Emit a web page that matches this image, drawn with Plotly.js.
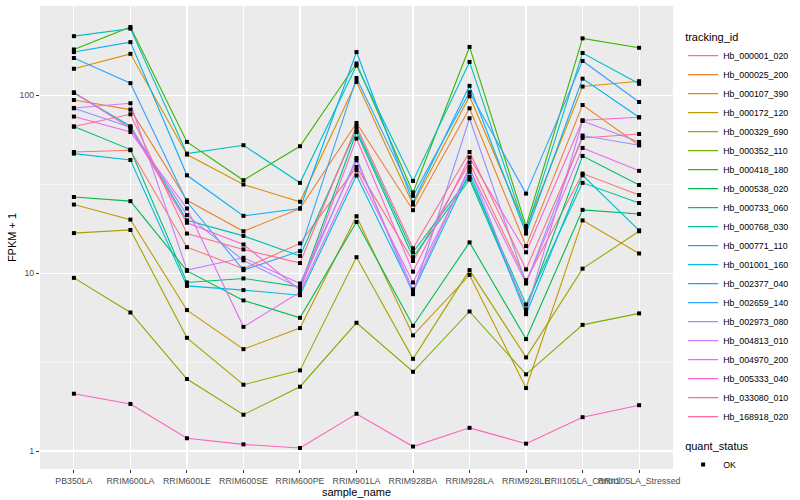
<!DOCTYPE html>
<html>
<head>
<meta charset="utf-8">
<script src="https://cdn.plot.ly/plotly-3.0.1.min.js"></script>
<style>html,body{margin:0;padding:0;background:#fff;}#chart{width:800px;height:500px;}</style>
</head>
<body>
<div id="chart"></div>
<script>
// ---- data (FPKM + 1) ----
const samples = ["PB350LA","RRIM600LA","RRIM600LE","RRIM600SE","RRIM600PE","RRIM901LA","RRIM928BA","RRIM928LA","RRIM928LE","RRII105LA_Control","RRII105LA_Stressed"];
const trackingIds = ["Hb_000001_020","Hb_000025_200","Hb_000107_390","Hb_000172_120","Hb_000329_690","Hb_000352_110","Hb_000418_180","Hb_000538_020","Hb_000733_060","Hb_000768_030","Hb_000771_110","Hb_001001_160","Hb_002377_040","Hb_002659_140","Hb_002973_080","Hb_004813_010","Hb_004970_200","Hb_005333_040","Hb_033080_010","Hb_168918_020"];
const Hb_000001_020 = [48.0, 49.1, 14.0, 10.6, 14.7, 39.6, 11.7, 41.9, 9.13, 36.3, 27.5];
const Hb_000025_200 = [94.1, 83.1, 25.7, 17.2, 23.1, 69.9, 22.6, 84.5, 14.2, 88.2, 52.4];
const Hb_000107_390 = [141, 171, 46.4, 31.5, 25.2, 119, 24.3, 98.7, 17.9, 112, 120];
const Hb_000172_120 = [24.3, 20.0, 6.20, 3.74, 4.91, 20.9, 4.47, 9.78, 2.26, 19.8, 12.9];
const Hb_000329_690 = [16.8, 17.5, 4.33, 2.36, 2.84, 12.3, 3.30, 10.4, 3.36, 10.6, 17.2];
const Hb_000352_110 = [9.41, 6.01, 2.54, 1.60, 2.30, 5.26, 2.79, 6.09, 2.70, 5.12, 5.94];
const Hb_000418_180 = [181, 242, 54.7, 33.3, 51.7, 151, 28.4, 187, 18.4, 209, 185];
const Hb_000538_020 = [26.8, 25.4, 10.3, 7.03, 5.61, 19.4, 5.06, 14.9, 4.26, 22.7, 21.5];
const Hb_000733_060 = [66.7, 49.5, 8.87, 9.34, 8.38, 62.2, 12.3, 33.6, 6.25, 45.6, 31.3];
const Hb_000768_030 = [103, 67.0, 19.8, 16.2, 12.5, 64.2, 13.1, 34.8, 6.67, 32.2, 24.8];
const Hb_000771_110 = [215, 237, 47.0, 52.4, 32.2, 147, 33.0, 154, 17.3, 173, 116];
const Hb_001001_160 = [47.0, 43.3, 8.48, 8.03, 7.52, 35.4, 7.85, 37.1, 5.88, 35.5, 17.4];
const Hb_002377_040 = [175, 199, 35.5, 21.0, 23.1, 175, 25.0, 113, 16.7, 124, 75.2];
const Hb_002659_140 = [162, 117, 25.1, 10.4, 13.3, 125, 27.2, 104, 28.0, 156, 91.7];
const Hb_002973_080 = [84.5, 66.1, 21.2, 11.8, 8.24, 44.4, 7.62, 74.3, 8.75, 59.4, 52.4];
const Hb_004813_010 = [84.9, 90.2, 10.4, 12.2, 8.75, 43.1, 8.10, 39.6, 6.04, 71.7, 54.7];
const Hb_004970_200 = [75.9, 62.2, 23.1, 4.99, 7.82, 37.9, 8.87, 38.4, 8.79, 50.6, 37.6];
const Hb_005333_040 = [104, 65.3, 19.2, 14.5, 8.03, 57.1, 10.2, 44.7, 13.1, 72.4, 75.2];
const Hb_033080_010 = [2.10, 1.84, 1.18, 1.09, 1.04, 1.62, 1.06, 1.35, 1.10, 1.55, 1.81];
const Hb_168918_020 = [66.7, 78.2, 16.7, 13.6, 11.4, 67.0, 13.8, 48.0, 10.5, 57.6, 60.6];
const quantStatus = "OK";

const seriesValues = [Hb_000001_020, Hb_000025_200, Hb_000107_390, Hb_000172_120, Hb_000329_690,
  Hb_000352_110, Hb_000418_180, Hb_000538_020, Hb_000733_060, Hb_000768_030, Hb_000771_110,
  Hb_001001_160, Hb_002377_040, Hb_002659_140, Hb_002973_080, Hb_004813_010, Hb_004970_200,
  Hb_005333_040, Hb_033080_010, Hb_168918_020];

// ggplot2 default hue palette for 20 levels
const palette = ["#F8766D","#EA8331","#D89000","#C09B00","#A3A500","#7CAE00","#39B600","#00BB4E","#00BF7D","#00C1A3","#00BFC4","#00BAE0","#00B0F6","#35A2FF","#9590FF","#C77CFF","#E76BF3","#FA62DB","#FF62BC","#FF6C91"];

const FONT = '"Liberation Sans", Arial, Helvetica, sans-serif';

const traces = trackingIds.map((id, i) => ({
  type: 'scatter', mode: 'lines', name: id,
  x: samples, y: seriesValues[i],
  line: {color: palette[i], width: 1.1},
  legend: 'legend', hoverinfo: 'skip'
}));

// points (all black, quant_status = OK)
const ptsX = [], ptsY = [];
seriesValues.forEach(vals => vals.forEach((v, j) => { ptsX.push(samples[j]); ptsY.push(v); }));
traces.push({
  type: 'scatter', mode: 'markers', name: quantStatus,
  x: ptsX, y: ptsY,
  marker: {color: '#000000', symbol: 'square', size: 4},
  legend: 'legend2', hoverinfo: 'skip'
});

const layout = {
  width: 800, height: 500,
  margin: {l: 40, r: 116, t: 6, b: 31, pad: 0},
  paper_bgcolor: '#FFFFFF', plot_bgcolor: '#EBEBEB',
  font: {family: FONT, color: '#000000', size: 11},
  xaxis: {
    type: 'category', categoryorder: 'array', categoryarray: samples,
    range: [-0.6, 10.6], tickangle: 0,
    showgrid: true, gridcolor: '#FFFFFF', gridwidth: 1.1,
    zeroline: false, showline: false,
    ticks: 'outside', ticklen: 3, tickwidth: 1, tickcolor: '#333333',
    tickfont: {family: FONT, size: 8.8, color: '#4D4D4D'},
    title: {text: 'sample_name', font: {family: FONT, size: 11, color: '#000000'}, standoff: 1}
  },
  yaxis: {
    type: 'log', range: [-0.101, 2.502],
    tickmode: 'array', tickvals: [1, 10, 100], ticktext: ['1', '10', '100'],
    showgrid: true, gridcolor: '#FFFFFF', gridwidth: 1.1,
    zeroline: false, showline: false,
    ticks: 'outside', ticklen: 3, tickwidth: 1, tickcolor: '#333333',
    tickfont: {family: FONT, size: 8.8, color: '#4D4D4D'},
    minor: {tickmode: 'array', tickvals: [3.1623, 31.623], showgrid: true, gridcolor: '#FFFFFF', gridwidth: 0.55, ticklen: 0},
    title: {text: 'FPKM + 1', font: {family: FONT, size: 11, color: '#000000'}, standoff: 0}
  },
  legend: {
    x: 1.016, xanchor: 'left', y: 0.955, yanchor: 'top',
    bgcolor: 'rgba(0,0,0,0)', borderwidth: 0,
    font: {family: FONT, size: 8.8, color: '#000000'},
    title: {text: 'tracking_id', font: {family: FONT, size: 11, color: '#000000'}},
    itemwidth: 30, tracegroupgap: 0
  },
  legend2: {
    x: 1.016, xanchor: 'left', y: 0.072, yanchor: 'top',
    bgcolor: 'rgba(0,0,0,0)', borderwidth: 0,
    font: {family: FONT, size: 8.8, color: '#000000'},
    title: {text: 'quant_status', font: {family: FONT, size: 11, color: '#000000'}},
    itemwidth: 30
  },
  showlegend: true
};

Plotly.newPlot('chart', traces, layout, {displayModeBar: false, staticPlot: true});
</script>
</body>
</html>
